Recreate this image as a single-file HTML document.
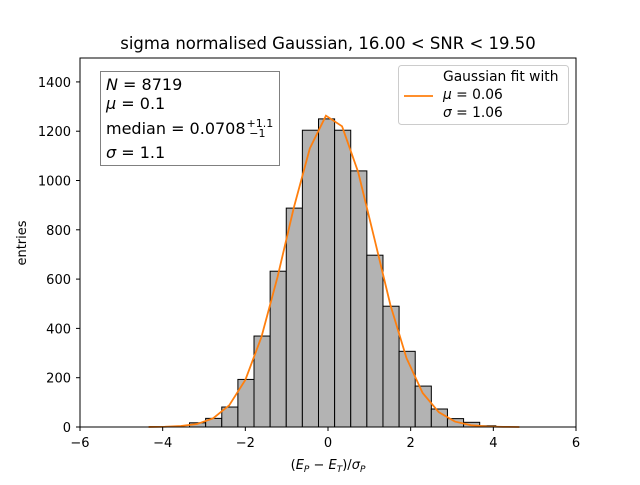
<!DOCTYPE html>
<html><head><meta charset="utf-8"><style>
body{margin:0;background:#fff;}
svg text{font-family:"DejaVu Sans","Liberation Sans",sans-serif;fill:#000;}
</style></head><body>
<svg id="chart" width="640" height="480" xmlns="http://www.w3.org/2000/svg">
<rect width="640" height="480" fill="#fff"/>
<text x="328" y="49" font-size="16.5" text-anchor="middle">sigma normalised Gaussian, 16.00 &lt; SNR &lt; 19.50</text>
<g id="bars"></g>
<polyline id="fit" fill="none" stroke="#ff7f0e" stroke-width="1.8"/>
<rect x="80" y="58" width="496" height="369" fill="none" stroke="#000" stroke-width="1"/>
<g id="xt"></g>
<g id="yt"></g>
<text x="328" y="469" font-size="13" text-anchor="middle">(<tspan font-style="italic">E</tspan><tspan font-size="9" dy="3" font-style="italic">P</tspan><tspan dy="-3"> − </tspan><tspan font-style="italic">E</tspan><tspan font-size="9" dy="3" font-style="italic">T</tspan><tspan dy="-3">)/</tspan><tspan font-style="italic">σ</tspan><tspan font-size="9" dy="3" font-style="italic">P</tspan></text>
<text transform="translate(26,243) rotate(-90)" font-size="13" text-anchor="middle">entries</text>
<g>
<rect x="100.5" y="71.5" width="179" height="94" fill="#fff" stroke="#808080" stroke-width="1"/>
<text x="106" y="90" font-size="16"><tspan font-style="italic">N</tspan> = 8719</text>
<text x="106" y="109" font-size="16"><tspan font-style="italic">μ</tspan> = 0.1</text>
<text x="106" y="134" font-size="16">median = 0.0708<tspan font-size="11" dx="1" dy="-7">+1.1</tspan><tspan font-size="11" dx="-24" dy="10">−1</tspan></text>
<text x="106" y="158" font-size="16"><tspan font-style="italic">σ</tspan> = 1.1</text>
</g>
<g>
<rect x="398.5" y="65.5" width="170" height="59" rx="3" fill="#fff" stroke="#ccc" stroke-width="1"/>
<line x1="404" y1="96" x2="433" y2="96" stroke="#ff7f0e" stroke-width="1.8"/>
<text x="443" y="81" font-size="13.8">Gaussian fit with</text>
<text x="443" y="99" font-size="13.8"><tspan font-style="italic">μ</tspan> = 0.06</text>
<text x="443" y="117" font-size="13.8"><tspan font-style="italic">σ</tspan> = 1.06</text>
</g>
</svg>
<script>
const binStart = -3.35;
const binWidth = 0.39;
const counts = [17,35,81,193,369,632,888,1204,1250,1204,1039,697,490,307,166,73,34,19,5];
const fitX = [-4.34,-3.95,-3.56,-3.17,-2.78,-2.39,-2.00,-1.61,-1.22,-0.83,-0.44,-0.05,0.34,0.73,1.12,1.51,1.90,2.29,2.68,3.07,3.46,3.85,4.24,4.63];
const fitY = [0.2,1,4,12,35,88,191,365,609,888,1130,1263,1220,1034,766,495,279,138,60,22,7,2,0.5,0.1];
const xTicks = [-6,-4,-2,0,2,4,6];
const yTicks = [0,200,400,600,800,1000,1200,1400];
const NS='http://www.w3.org/2000/svg';
const X=v=>80+(v+6)*496/12;
const Y=v=>427-v*369/1497;
const bars=document.getElementById('bars');
counts.forEach((c,i)=>{
  const r=document.createElementNS(NS,'rect');
  const x0=X(binStart+i*binWidth), x1=X(binStart+(i+1)*binWidth);
  r.setAttribute('x',x0);r.setAttribute('y',Y(c));
  r.setAttribute('width',x1-x0);r.setAttribute('height',Y(0)-Y(c));
  r.setAttribute('fill','#b3b3b3');r.setAttribute('stroke','#000');r.setAttribute('stroke-width','1');
  
  
  bars.appendChild(r);
});
document.getElementById('fit').setAttribute('points',fitX.map((x,i)=>X(x)+','+Y(fitY[i])).join(' '));
const xt=document.getElementById('xt');
xTicks.forEach(t=>{
  const l=document.createElementNS(NS,'line');
  l.setAttribute('x1',X(t));l.setAttribute('x2',X(t));l.setAttribute('y1',427);l.setAttribute('y2',431);l.setAttribute('stroke','#000');
  
  
  xt.appendChild(l);
  const s=document.createElementNS(NS,'text');
  s.setAttribute('x',X(t));s.setAttribute('y',447);s.setAttribute('font-size','13');s.setAttribute('text-anchor','middle');
  s.textContent=(t<0?'−':'')+Math.abs(t);
  
  
  xt.appendChild(s);
});
const yt=document.getElementById('yt');
yTicks.forEach(t=>{
  const l=document.createElementNS(NS,'line');
  l.setAttribute('x1',76);l.setAttribute('x2',80);l.setAttribute('y1',Y(t));l.setAttribute('y2',Y(t));l.setAttribute('stroke','#000');
  
  
  yt.appendChild(l);
  const s=document.createElementNS(NS,'text');
  s.setAttribute('x',71);s.setAttribute('y',Y(t)+5);s.setAttribute('font-size','13');s.setAttribute('text-anchor','end');
  s.textContent=t;
  
  
  yt.appendChild(s);
});
</script>
</body></html>
